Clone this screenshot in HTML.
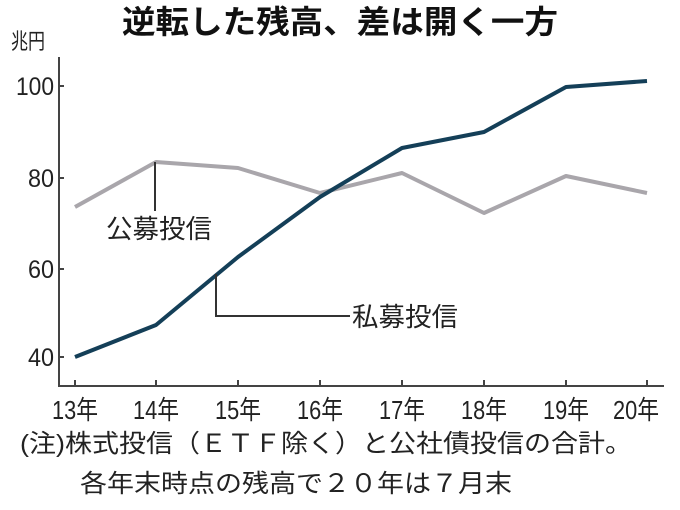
<!DOCTYPE html>
<html><head><meta charset="utf-8"><style>
body{margin:0;background:#fff;}
svg{display:block;font-family:"Liberation Sans","Noto Sans CJK JP",sans-serif;}
</style></head><body>
<svg width="680" height="510" viewBox="0 0 680 510">
<text x="340" y="33" text-anchor="middle" font-size="32" font-weight="bold" fill="#111" textLength="436" lengthAdjust="spacingAndGlyphs">逆転した残高、差は開く一方</text>
<text x="11" y="49" font-size="22" fill="#222" textLength="34" lengthAdjust="spacingAndGlyphs">兆円</text>
<g stroke="#444" stroke-width="2" fill="none">
<path d="M59 57 V386 H664"/>
<path d="M59 86h5M59 178h5M59 269h5M59 357h5"/>
<path d="M75 386v-6M156 386v-6M238 386v-6M320 386v-6M402 386v-6M484 386v-6M566 386v-6M647 386v-6"/>
</g>
<g font-size="25" fill="#222" text-anchor="end">
<text x="54" y="95" textLength="38" lengthAdjust="spacingAndGlyphs">100</text><text x="54" y="187" textLength="26" lengthAdjust="spacingAndGlyphs">80</text><text x="54" y="278" textLength="26" lengthAdjust="spacingAndGlyphs">60</text><text x="54" y="366" textLength="26" lengthAdjust="spacingAndGlyphs">40</text>
</g>
<g font-size="26" fill="#222">
<text x="52" y="419" textLength="46" lengthAdjust="spacingAndGlyphs">13年</text>
<text x="133" y="419" textLength="46" lengthAdjust="spacingAndGlyphs">14年</text>
<text x="215" y="419" textLength="46" lengthAdjust="spacingAndGlyphs">15年</text>
<text x="297" y="419" textLength="46" lengthAdjust="spacingAndGlyphs">16年</text>
<text x="379" y="419" textLength="46" lengthAdjust="spacingAndGlyphs">17年</text>
<text x="461" y="419" textLength="46" lengthAdjust="spacingAndGlyphs">18年</text>
<text x="543" y="419" textLength="46" lengthAdjust="spacingAndGlyphs">19年</text>
<text x="613" y="419" textLength="46" lengthAdjust="spacingAndGlyphs">20年</text>
</g>
<polyline fill="none" stroke="#a9a6ab" stroke-width="4" stroke-linejoin="round" points="75,207 156,162 238,168 320,193 402,173 484,213 566,176 647,193"/>
<polyline fill="none" stroke="#143f58" stroke-width="4" stroke-linejoin="round" points="75,357 156,325 238,257 320,197 402,148 484,132 566,87 647,81"/>
<g stroke="#333" stroke-width="2" fill="none">
<path d="M155 162 V211"/>
<path d="M216 274 V316 H350"/>
</g>
<text x="106" y="238" font-size="26" fill="#222" textLength="106" lengthAdjust="spacingAndGlyphs">公募投信</text>
<text x="352" y="326" font-size="26" fill="#222" textLength="106" lengthAdjust="spacingAndGlyphs">私募投信</text>
<text x="20" y="452" font-size="25" fill="#222" textLength="612" lengthAdjust="spacingAndGlyphs">(注)株式投信（ＥＴＦ除く）と公社債投信の合計。</text>
<text x="80" y="492" font-size="25" fill="#222" textLength="432" lengthAdjust="spacingAndGlyphs">各年末時点の残高で２０年は７月末</text>
</svg>
</body></html>
